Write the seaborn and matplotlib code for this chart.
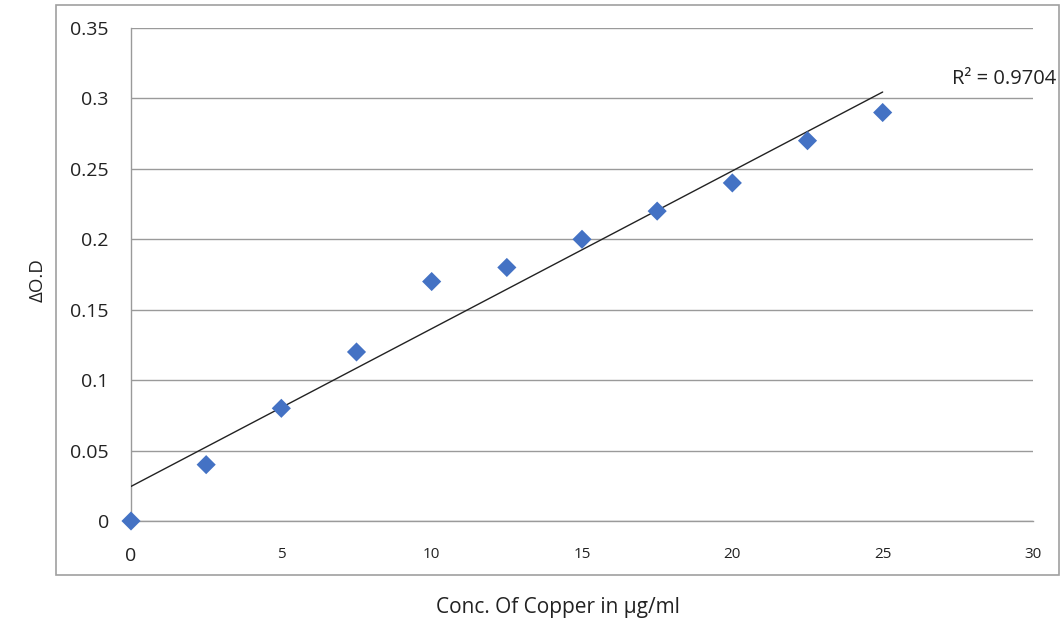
import numpy as np
import pandas as pd
import matplotlib
matplotlib.use("Agg")
import matplotlib.pyplot as plt
import seaborn as sns
from matplotlib.patches import Rectangle

# data
conc = [0, 2.5, 5, 7.5, 10, 12.5, 15, 17.5, 20, 22.5, 25]
delta_od = [0, 0.04, 0.08, 0.12, 0.17, 0.18, 0.20, 0.22, 0.24, 0.27, 0.29]
r2_text = "R² = 0.9704"
x_ticks = [0, 5, 10, 15, 20, 25, 30]
y_ticks = [0, 0.05, 0.1, 0.15, 0.2, 0.25, 0.3, 0.35]
y_tick_labels = ["0", "0.05", "0.1", "0.15", "0.2", "0.25", "0.3", "0.35"]

sns.set_theme(style="white")
plt.rcParams['font.family'] = ['Open Sans', 'DejaVu Sans']

df = pd.DataFrame({'conc': conc, 'od': delta_od})

fig = plt.figure(figsize=(10.6, 6.24), dpi=100)
ax = fig.add_axes([131 / 1060, 1 - 521 / 624, 902 / 1060, 493 / 624])

# linear trendline over the data range
slope, icpt = np.polyfit(df['conc'], df['od'], 1)
fit = pd.DataFrame({'conc': [min(conc), max(conc)]})
fit['od'] = icpt + slope * fit['conc']
sns.lineplot(data=fit, x='conc', y='od', ax=ax, color='#222222', linewidth=1.0, zorder=3)

sns.scatterplot(data=df, x='conc', y='od', ax=ax, marker='D', s=95,
                color='#4472C4', edgecolor='none', zorder=4, clip_on=False)

ax.set_xlim(0, 30)
ax.set_ylim(0, 0.35)
ax.set_xticks(x_ticks)
ax.set_yticks(y_ticks)
ax.set_yticklabels(y_tick_labels, fontsize=14, color='#222222')
ax.set_xticklabels([str(t) for t in x_ticks], fontsize=11, color='#222222')
ax.get_xticklabels()[0].set_fontsize(14)

ax.yaxis.grid(True, color='#9a9a9a', linewidth=1.0)
ax.set_axisbelow(True)
for side in ['top', 'right']:
    ax.spines[side].set_visible(False)
for side in ['left', 'bottom']:
    ax.spines[side].set_color('#9a9a9a')
    ax.spines[side].set_linewidth(1.0)
ax.tick_params(axis='x', direction='out', length=6, width=1, color='#9a9a9a', pad=13)
ax.tick_params(axis='y', direction='out', length=6, width=1, color='#9a9a9a', pad=10)

ax.set_xlabel('')
ax.set_ylabel('')
fig.text(558 / 1060, 1 - 608 / 624, 'Conc. Of Copper in μg/ml', ha='center', va='center',
         fontsize=15, color='#222222')
fig.text(38 / 1060, 1 - 280 / 624, 'ΔO.D', ha='center', va='center', rotation=90,
         fontsize=13.5, color='#222222')

ax.text(27.3, 0.3135, r2_text, ha='left', va='center', fontsize=14.5, color='#222222')

# outer chart-area box
fig.patches.append(Rectangle((56 / 1060, 1 - 575 / 624), 1003 / 1060, 570 / 624,
                             transform=fig.transFigure, fill=False,
                             edgecolor='#a0a0a0', linewidth=1.2))

fig.savefig('out.png', dpi=100)
